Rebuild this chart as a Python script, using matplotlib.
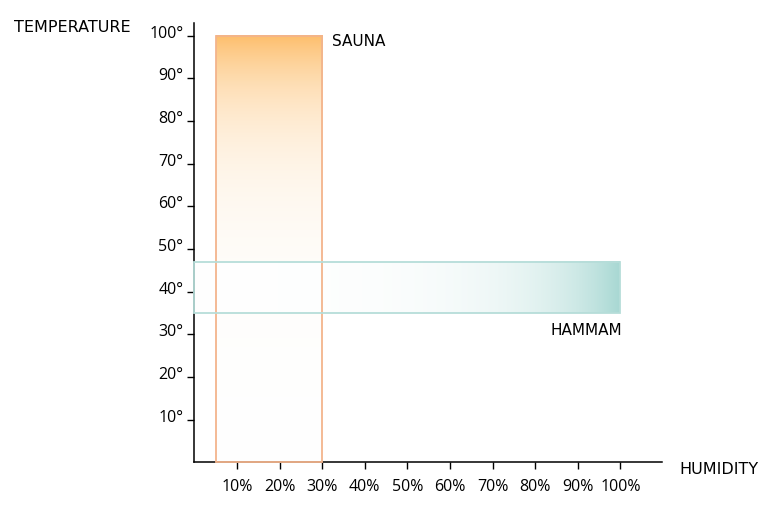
import numpy as np
import matplotlib.pyplot as plt
from matplotlib.patches import Rectangle
from matplotlib.colors import to_rgb
from matplotlib.transforms import ScaledTranslation

# Data: comfort ranges (humidity %, temperature deg)
zones = ['SAUNA', 'HAMMAM']
humidity_lo = [5, 0]
humidity_hi = [30, 100]
temp_lo = [0, 35]
temp_hi = [100, 47]

x_ticks = [10, 20, 30, 40, 50, 60, 70, 80, 90, 100]
x_labels = ['10%', '20%', '30%', '40%', '50%', '60%', '70%', '80%', '90%', '100%']
y_ticks = [10, 20, 30, 40, 50, 60, 70, 80, 90, 100]
y_labels = ['10°', '20°', '30°', '40°', '50°', '60°', '70°', '80°', '90°', '100°']

plt.rcParams['font.family'] = ['Open Sans', 'DejaVu Sans']
cap_font = 'DejaVu Sans'


def fade(color, t):
    # blend white -> color by weight t
    c = np.array(to_rgb(color))
    return (1 - t)[..., None] + t[..., None] * c


fig = plt.figure(figsize=(7.76, 5.14), dpi=100)
ax = fig.add_axes([0.2506, 0.1002, 0.602, 0.8556])
ax.set_xlim(0, 109.7)
ax.set_ylim(0, 103)

# Sauna: vertical gradient, orange at top fading to white
tv = np.linspace(temp_lo[0], temp_hi[0], 400).reshape(-1, 1)
wv = np.exp(-(temp_hi[0] - tv) / 17.0)
ax.imshow(fade('#fdbe6c', wv), aspect='auto', origin='lower', interpolation='bilinear',
          extent=[humidity_lo[0], humidity_hi[0], temp_lo[0], temp_hi[0]], zorder=1)

# Hammam: horizontal gradient, white at left to teal at right
hx = np.linspace(humidity_lo[1], humidity_hi[1], 400).reshape(1, -1)
wh = np.exp(-(humidity_hi[1] - hx) / 18.0)
ax.imshow(fade('#a8d8d3', wh), aspect='auto', origin='lower', interpolation='bilinear',
          extent=[humidity_lo[1], humidity_hi[1], temp_lo[1], temp_hi[1]], zorder=2)

edge_colors = ['#f3b48c', '#b6ddd9']
for i in range(len(zones)):
    ax.add_patch(Rectangle((humidity_lo[i], temp_lo[i]), humidity_hi[i] - humidity_lo[i],
                           temp_hi[i] - temp_lo[i], fill=False, edgecolor=edge_colors[i],
                           linewidth=1.3, zorder=3 + i, clip_on=False))

ax.text(humidity_hi[0] + 2.3, temp_hi[0] - 1.3, zones[0], fontsize=11, family=cap_font,
        ha='left', va='center')
ax.text(humidity_hi[1] + 0.4, temp_lo[1] - 4.1, zones[1], fontsize=11, family=cap_font,
        ha='right', va='center')

for s in ['top', 'right']:
    ax.spines[s].set_visible(False)
ax.spines['left'].set_linewidth(1.1)
ax.spines['bottom'].set_linewidth(1.1)

ax.set_xticks(x_ticks)
ax.set_xticklabels(x_labels, fontsize=11.5)
ax.set_yticks(y_ticks)
ax.set_yticklabels(y_labels, fontsize=11.5)
ax.tick_params(axis='x', direction='out', length=5, width=1, pad=7)
ax.tick_params(axis='y', direction='out', length=5, width=1, pad=3)
for lab in ax.get_yticklabels():
    lab.set_transform(lab.get_transform() + ScaledTranslation(0, 4 / 100, fig.dpi_scale_trans))

fig.text(14 / 776, 1 - 27 / 514, 'TEMPERATURE', fontsize=11.5, family=cap_font, ha='left', va='center')
fig.text(679 / 776, 1 - 469 / 514, 'HUMIDITY', fontsize=11.5, family=cap_font, ha='left', va='center')

fig.savefig('out.png', dpi=100)
